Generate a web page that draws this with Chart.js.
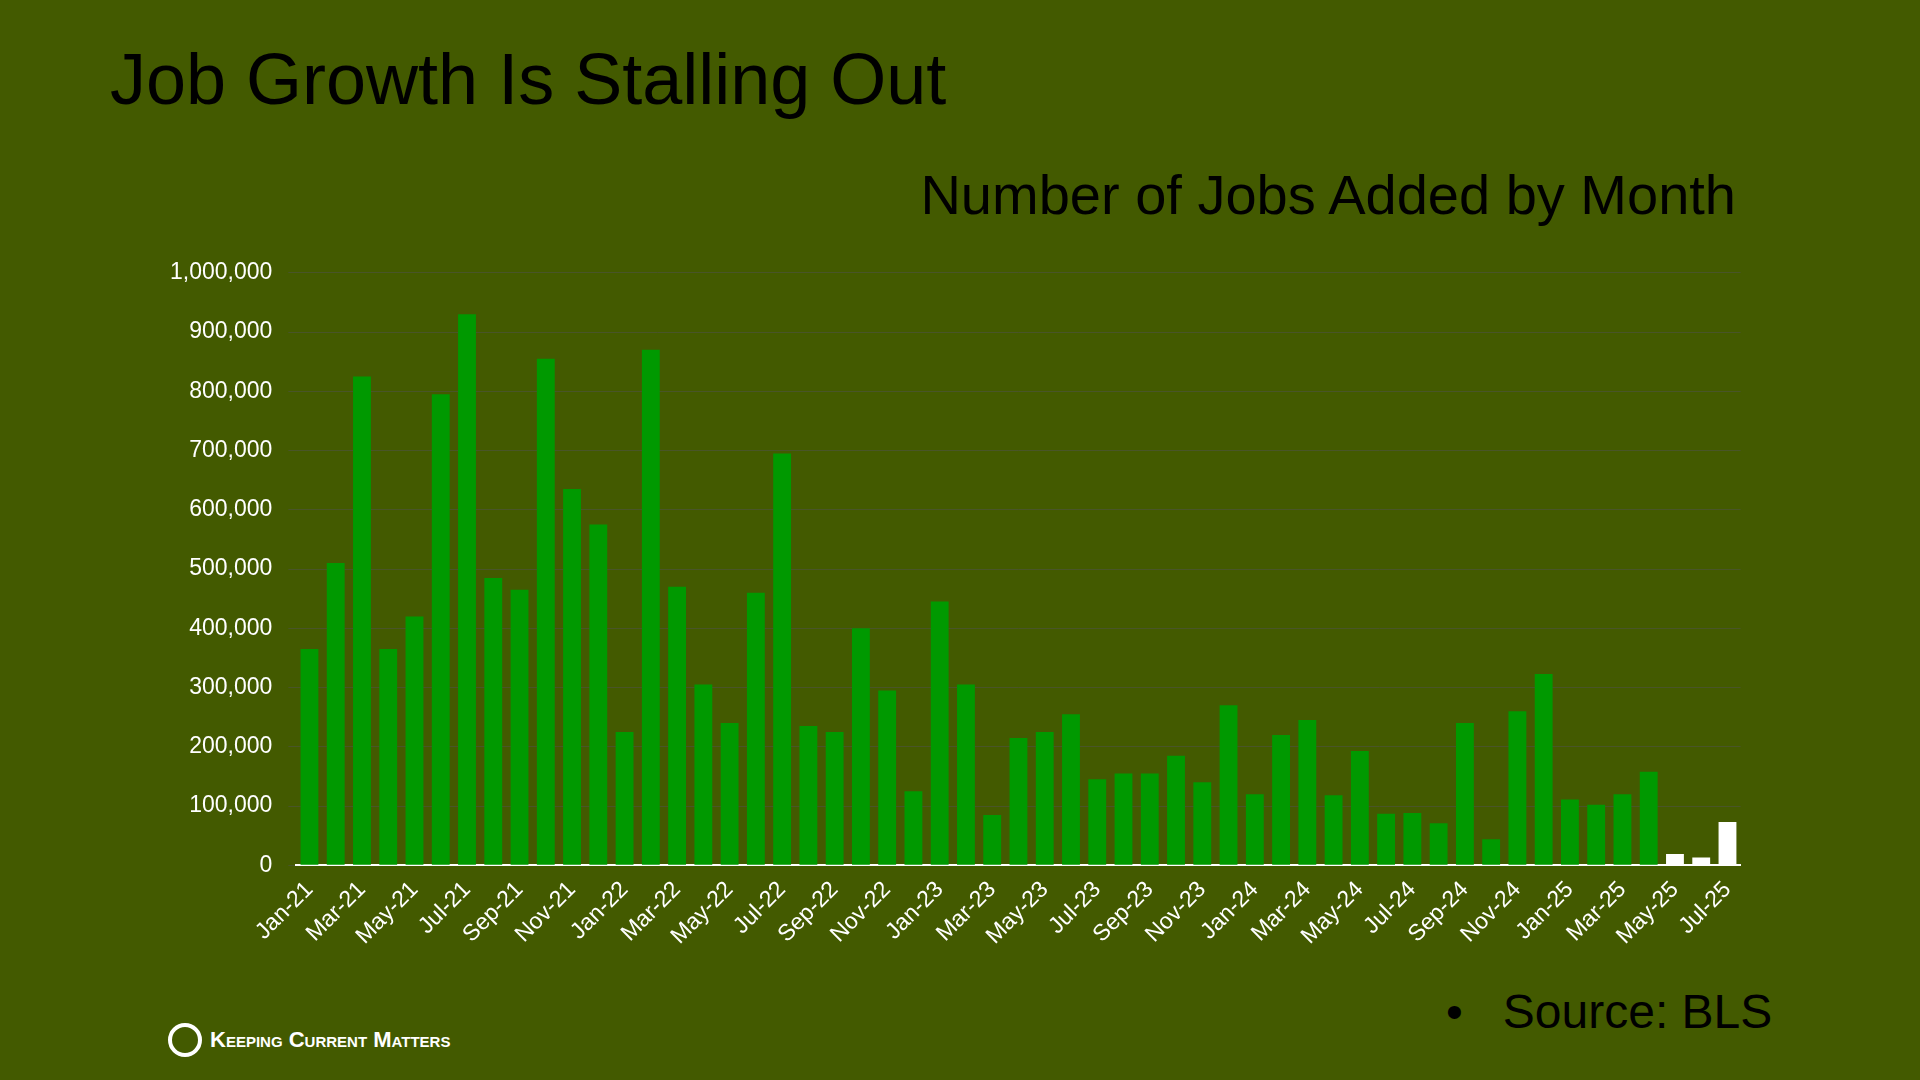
<!DOCTYPE html>
<html>
<head>
<meta charset="utf-8">
<script src="https://cdn.jsdelivr.net/npm/chart.js@4"></script>
<style>
  body { margin: 0; width: 1920px; height: 1080px; background: #435a00; font-family: "Liberation Sans", Arial, sans-serif; overflow: hidden; position: relative; }
  #title { position: absolute; left: 110px; top: 38px; font-size: 72px; color: #000; }
  #sub { position: absolute; right: 184px; top: 162px; font-size: 56px; color: #000; }
  #wrap { position: absolute; left: 154px; top: 243px; width: 1596px; height: 710px; }
  #source { position: absolute; left: 1446px; top: 984px; font-size: 48px; color: #000; }
  #logo { position: absolute; left: 168px; top: 1023px; color: #fff; font-size: 22px; font-variant: small-caps; font-weight: bold; display: flex; align-items: center; gap: 8px; }
  #logo .c { width: 34px; height: 34px; border: 4px solid #fff; border-radius: 50%; box-sizing: border-box; }
</style>
</head>
<body>
<div id="title">Job Growth Is Stalling Out</div>
<div id="sub">Number of Jobs Added by Month</div>
<div id="wrap"><canvas id="jobsChart"></canvas></div>
<div id="source">•&nbsp;&nbsp;&nbsp;Source: BLS</div>
<div id="logo"><div class="c"></div><span>Keeping Current Matters</span></div>
<script>
const months = ['Jan','Feb','Mar','Apr','May','Jun','Jul','Aug','Sep','Oct','Nov','Dec'];
const labels = [];
for (let y = 21; y <= 25; y++) {
    for (let m of months) {
        if (y === 25 && labels.length >= 55) break;
        labels.push(m + '-' + y);
    }
}
const jobsAdded = [
    365000, 510000, 825000, 365000, 420000, 795000, 930000, 485000, 465000, 855000, 635000, 575000,
    225000, 870000, 470000, 305000, 240000, 460000, 695000, 235000, 225000, 400000, 295000, 125000,
    445000, 305000, 85000, 215000, 225000, 255000, 145000, 155000, 155000, 185000, 140000, 270000,
    120000, 220000, 245000, 118000, 193000, 87000, 88000, 71000, 240000, 44000, 260000, 323000,
    111000, 102000, 120000, 158000, 19000, 13000, 73000
];
const highlightFrom = 52;

const ctx = document.getElementById('jobsChart').getContext('2d');
new Chart(ctx, {
    type: 'bar',
    data: {
        labels: labels,
        datasets: [{
            data: jobsAdded,
            backgroundColor: jobsAdded.map((_, i) => i >= highlightFrom ? '#ffffff' : '#009900'),
            categoryPercentage: 1.0,
            barPercentage: 0.68
        }]
    },
    options: {
        responsive: true,
        maintainAspectRatio: false,
        animation: false,
        plugins: { legend: { display: false }, tooltip: { enabled: false } },
        scales: {
            x: {
                grid: { display: false },
                border: { color: '#ffffff', width: 2 },
                ticks: {
                    color: '#ffffff', font: { size: 23, family: 'Liberation Sans' },
                    autoSkip: false, maxRotation: 45, minRotation: 45,
                    callback: (v, i) => i % 2 === 0 ? labels[i] : ''
                }
            },
            y: {
                min: 0, max: 1000000,
                grid: { color: 'rgba(80,80,80,0.5)' },
                border: { display: false },
                ticks: {
                    stepSize: 100000, color: '#ffffff', padding: 16,
                    font: { size: 23, family: 'Liberation Sans' },
                    callback: v => v.toLocaleString('en-US')
                }
            }
        }
    }
});
</script>
</body>
</html>
